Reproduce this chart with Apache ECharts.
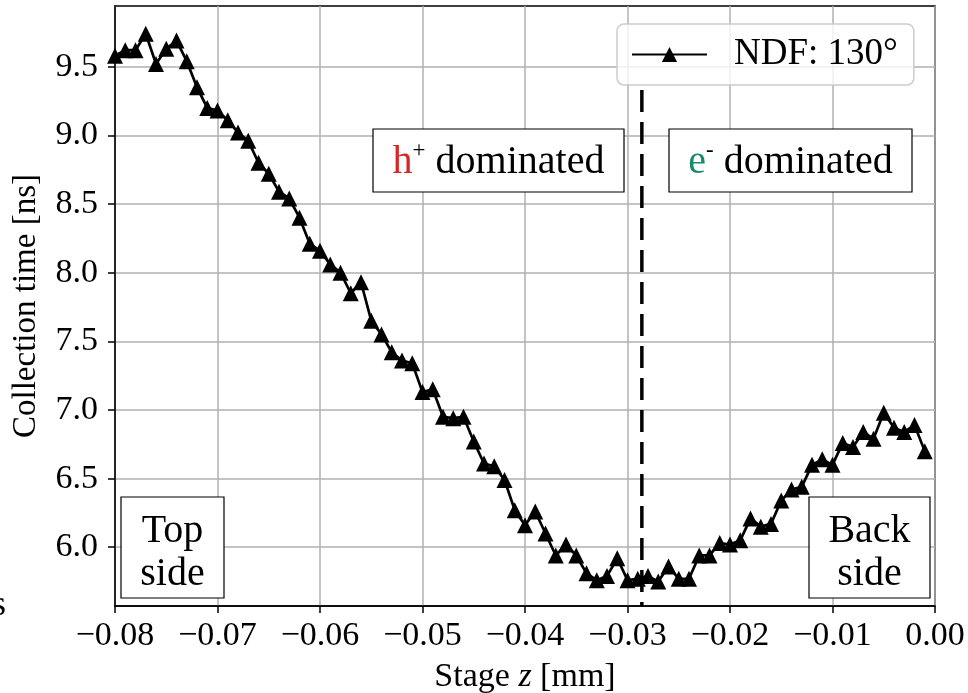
<!DOCTYPE html>
<html>
<head>
<meta charset="utf-8">
<script src="https://cdn.jsdelivr.net/npm/echarts@6/dist/echarts.min.js"></script>
<style>
html,body{margin:0;padding:0;background:#ffffff;}
#chart{width:968px;height:693px;}
</style>
</head>
<body>
<div id="chart"></div>
<script>
// ---- data ----
const stageZ = [
  -0.080,-0.079,-0.078,-0.077,-0.076,-0.075,-0.074,-0.073,-0.072,-0.071,
  -0.070,-0.069,-0.068,-0.067,-0.066,-0.065,-0.064,-0.063,-0.062,-0.061,
  -0.060,-0.059,-0.058,-0.057,-0.056,-0.055,-0.054,-0.053,-0.052,-0.051,
  -0.050,-0.049,-0.048,-0.047,-0.046,-0.045,-0.044,-0.043,-0.042,-0.041,
  -0.040,-0.039,-0.038,-0.037,-0.036,-0.035,-0.034,-0.033,-0.032,-0.031,
  -0.030,-0.029,-0.028,-0.027,-0.026,-0.025,-0.024,-0.023,-0.022,-0.021,
  -0.020,-0.019,-0.018,-0.017,-0.016,-0.015,-0.014,-0.013,-0.012,-0.011,
  -0.010,-0.009,-0.008,-0.007,-0.006,-0.005,-0.004,-0.003,-0.002,-0.001
];
const collectionTime = [
  9.58, 9.62, 9.62, 9.74, 9.52, 9.63, 9.69, 9.54, 9.35, 9.20,
  9.18, 9.11, 9.02, 8.96, 8.80, 8.72, 8.59, 8.54, 8.40, 8.21,
  8.16, 8.06, 8.00, 7.85, 7.93, 7.65, 7.55, 7.42, 7.36, 7.34,
  7.13, 7.15, 6.95, 6.94, 6.95, 6.77, 6.61, 6.59, 6.49, 6.27,
  6.16, 6.26, 6.10, 5.94, 6.02, 5.94, 5.81, 5.76, 5.79, 5.92,
  5.76, 5.77, 5.79, 5.75, 5.86, 5.77, 5.77, 5.94, 5.94, 6.03,
  6.02, 6.05, 6.21, 6.15, 6.17, 6.34, 6.42, 6.44, 6.60, 6.64,
  6.60, 6.76, 6.73, 6.84, 6.79, 6.98, 6.87, 6.84, 6.89, 6.70
];
const seriesName = 'NDF: 130°';
const xTicks = [-0.08, -0.07, -0.06, -0.05, -0.04, -0.03, -0.02, -0.01, 0.00];
const yTicks = [6.0, 6.5, 7.0, 7.5, 8.0, 8.5, 9.0, 9.5];
const xRange = [-0.08, 0.0];
const yRange = [5.572, 9.942];
const dividerZ = -0.0286;
const dividerTop = 9.33;

// ---- chart ----
const FONT = '"Liberation Serif", "DejaVu Serif", serif';
const chart = echarts.init(document.getElementById('chart'), null, {renderer: 'canvas'});

const points = stageZ.map((z, i) => [z, collectionTime[i]]);
const fmtX = v => {
  const r = Math.round(v * 100) / 100;
  return (r < 0 ? '\u2212' : '') + Math.abs(r).toFixed(2);
};

function box(x, y, w, h, text, rich, dy) {
  return {
    type: 'group',
    children: [
      {type: 'rect', shape: {x: x, y: y, width: w, height: h},
       style: {fill: '#ffffff', stroke: '#000000', lineWidth: 1.2}, z: 10},
      {type: 'text', x: x + w / 2, y: y + h / 2 + dy, z: 11,
       style: {text: text, align: 'center', verticalAlign: 'middle',
               font: '40px ' + FONT, fill: '#000000', lineHeight: 43, rich: rich}}
    ]
  };
}

const supRich = (color) => ({
  a: {fontSize: 40, fontFamily: FONT, fill: color, lineHeight: 46, verticalAlign: 'middle'},
  s: {fontSize: 23, fontFamily: FONT, fill: '#000000', lineHeight: 32, verticalAlign: 'top'},
  t: {fontSize: 40, fontFamily: FONT, fill: '#000000', lineHeight: 46, verticalAlign: 'middle'}
});

const option = {
  animation: false,
  backgroundColor: '#ffffff',
  grid: {left: 115, right: 33, top: 6, bottom: 87, show: true, outerBoundsMode: 'none',
         containLabel: false,
         borderColor: '#000000', borderWidth: 1.5, backgroundColor: 'transparent'},
  xAxis: {
    type: 'value', min: xRange[0], max: xRange[1], interval: 0.01,
    name: '{a|Stage }{z|z}{a| [mm]}', nameLocation: 'middle', nameGap: 54,
    nameTextStyle: {rich: {
      a: {fontSize: 34, fontFamily: FONT, color: '#000'},
      z: {fontSize: 34, fontFamily: FONT, fontStyle: 'italic', color: '#000'}
    }},
    axisLine: {show: true, onZero: false, lineStyle: {color: '#000', width: 1.5}},
    axisTick: {show: true, inside: false, length: 7, lineStyle: {color: '#000', width: 1.5}},
    axisLabel: {margin: 13, fontSize: 34, fontFamily: FONT, color: '#000', formatter: fmtX,
                showMinLabel: true, showMaxLabel: true, hideOverlap: false},
    splitLine: {show: true, lineStyle: {color: '#b0b0b0', width: 1.5}}
  },
  yAxis: {
    type: 'value', min: yRange[0], max: yRange[1],
    name: 'Collection time [ns]', nameLocation: 'middle', nameGap: 72,
    nameTextStyle: {fontSize: 33, fontFamily: FONT, color: '#000'},
    axisLine: {show: true, onZero: false, lineStyle: {color: '#000', width: 1.5}},
    axisTick: {show: true, inside: false, length: 7, customValues: yTicks,
               lineStyle: {color: '#000', width: 1.5}},
    axisLabel: {margin: 17, fontSize: 34, fontFamily: FONT, color: '#000',
                customValues: yTicks, formatter: v => v.toFixed(1), padding: [6, 0, 0, 0]},
    splitLine: {show: true, lineStyle: {color: '#b0b0b0', width: 1.5}}
  },
  legend: {
    data: [seriesName], left: 617, top: 24, orient: 'horizontal',
    itemWidth: 75, itemHeight: 19, itemGap: 10,
    padding: [12, 16, 12, 14],
    backgroundColor: 'rgba(255,255,255,0.8)', borderColor: '#cccccc', borderWidth: 1.5, borderRadius: 7,
    textStyle: {fontSize: 37, fontFamily: FONT, color: '#000', padding: [0, 0, 0, 22]}
  },
  series: [
    {
      name: seriesName, type: 'line', data: points, clip: true,
      symbol: 'triangle', symbolSize: 16, showAllSymbol: true,
      lineStyle: {color: '#000', width: 2.7},
      itemStyle: {color: '#000'}, z: 3
    },
    {
      name: 'divider', type: 'line', data: [[dividerZ, dividerTop], [dividerZ, yRange[0]]],
      symbol: 'none', silent: true,
      lineStyle: {color: '#000', width: 3.5, type: [22, 10]}, z: 4
    }
  ],
  graphic: [
    box(373, 129, 251, 63, '{a|h}{s|+}{t| dominated}', supRich('#d62728'), 2),
    box(669, 129, 243, 63, '{a|e}{s|-}{t| dominated}', supRich('#1b8a6b'), 2),
    box(121, 497, 103, 101, 'Top\nside', null, 5),
    box(809, 497, 121, 101, 'Back\nside', null, 5),
    {type: 'text', x: 6, y: 606, style: {text: 's', align: 'right', verticalAlign: 'middle',
      font: '36px ' + FONT, fill: '#000'}}
  ]
};
chart.setOption(option);
</script>
</body>
</html>
